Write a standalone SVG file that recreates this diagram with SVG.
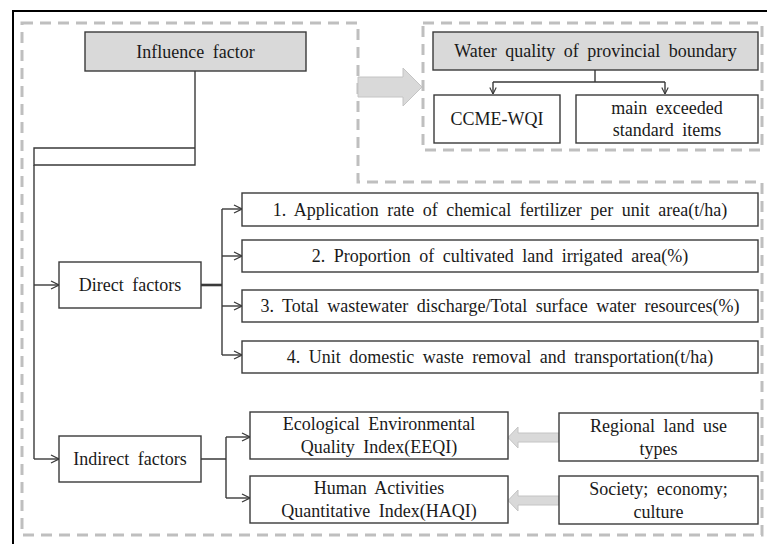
<svg xmlns="http://www.w3.org/2000/svg" width="767" height="544" viewBox="0 0 767 544">
<defs>
<style>
.box{fill:#fff;stroke:#3a3a3a;stroke-width:1.4}
.gbox{fill:#d9d9d9;stroke:#3a3a3a;stroke-width:1.4}
.dash{fill:none;stroke:#bfbfbf;stroke-width:3;stroke-dasharray:11 7}
.ln{fill:none;stroke:#3a3a3a;stroke-width:1.4}
.ga{fill:#d9d9d9;stroke:#c4c4c4;stroke-width:1}
.t{font-size:18px;fill:#1a1a1a;text-anchor:middle;dominant-baseline:central;word-spacing:4px}
</style>
<marker id="ah" viewBox="0 0 10 10" refX="10" refY="5" markerWidth="10" markerHeight="10" markerUnits="userSpaceOnUse" orient="auto">
<path d="M2,1 L10,5 L2,9" fill="none" stroke="#3a3a3a" stroke-width="1.3"/>
</marker>
<marker id="ahs" viewBox="0 0 10 10" refX="10" refY="5" markerWidth="8" markerHeight="8" markerUnits="userSpaceOnUse" orient="auto">
<path d="M2,1 L10,5 L2,9" fill="none" stroke="#3a3a3a" stroke-width="1.4"/>
</marker>
</defs>
<rect x="0" y="0" width="767" height="544" fill="#fff"/>
<path d="M13,560 V11 H780" fill="none" stroke="#000" stroke-width="2"/>
<g id="frames">
<path class="dash" d="M22,23 H358 V182 H762 V535 H22 Z"/>
<rect class="dash" x="423" y="23" width="339" height="127"/>
</g>
<g id="connectors">
<polygon class="ga" points="358,77 403,77 403,68 422,87 403,106 403,97 358,97"/>
<polygon class="ga" points="559,433 518,433 518,427 508,437.5 518,448 518,442 559,442"/>
<polygon class="ga" points="559,496 518,496 518,490 508,500.5 518,511 518,505 559,505"/>
<path class="ln" d="M195,71 V165 H34 V148 H195"/>
<path class="ln" d="M34,165 V459"/>
<path class="ln" d="M34,285 H59" marker-end="url(#ah)"/>
<path class="ln" d="M34,459 H59" marker-end="url(#ah)"/>
<path class="ln" d="M201,285 H222" style="stroke-width:2.6"/>
<path class="ln" d="M222,209 V355"/>
<path class="ln" d="M222,209 H242" marker-end="url(#ah)"/>
<path class="ln" d="M222,256 H242" marker-end="url(#ah)"/>
<path class="ln" d="M222,306 H242" marker-end="url(#ah)"/>
<path class="ln" d="M222,355 H242" marker-end="url(#ah)"/>
<path class="ln" d="M201,459 H226 M226,437 V498"/>
<path class="ln" d="M226,437 H250" marker-end="url(#ah)"/>
<path class="ln" d="M226,498 H250" marker-end="url(#ah)"/>
<path class="ln" d="M595,70 V82 M493,82 H665"/>
<path class="ln" d="M493,82 V94" marker-end="url(#ahs)"/>
<path class="ln" d="M665,82 V94" marker-end="url(#ahs)"/>
</g>
<g font-family="'Liberation Serif', 'Times New Roman', 'DejaVu Serif', serif">
<g id="influence"><rect class="gbox" x="85" y="32" width="221" height="39"/><text class="t" x="195.5" y="52">Influence factor</text></g>
<g id="waterquality"><rect class="gbox" x="433" y="32" width="325" height="38"/><text class="t" x="595.5" y="51">Water quality of provincial  boundary</text></g>
<g id="ccme"><rect class="box" x="434" y="95" width="126" height="48"/><text class="t" x="497" y="119">CCME-WQI</text></g>
<g id="exceeded"><rect class="box" x="576" y="95" width="182" height="48"/><text class="t" x="667" y="108">main  exceeded</text><text class="t" x="667" y="130">standard items</text></g>
<g id="direct"><rect class="box" x="59" y="262" width="142" height="46"/><text class="t" x="130" y="285">Direct factors</text></g>
<g id="f1"><rect class="box" x="242" y="193" width="516" height="33"/><text class="t" x="500" y="209.5">1. Application  rate of chemical  fertilizer  per unit  area(t/ha)</text></g>
<g id="f2"><rect class="box" x="242" y="240" width="516" height="32"/><text class="t" x="500" y="256">2. Proportion  of cultivated  land  irrigated  area(%)</text></g>
<g id="f3"><rect class="box" x="242" y="290" width="516" height="32"/><text class="t" x="500" y="306">3. Total wastewater  discharge/Total  surface water resources(%)</text></g>
<g id="f4"><rect class="box" x="242" y="341" width="516" height="32"/><text class="t" x="500" y="357">4. Unit  domestic  waste  removal  and  transportation(t/ha)</text></g>
<g id="indirect"><rect class="box" x="59" y="436" width="142" height="46"/><text class="t" x="130" y="459">Indirect factors</text></g>
<g id="eeqi"><rect class="box" x="250" y="412" width="258" height="47"/><text class="t" x="379" y="424">Ecological  Environmental</text><text class="t" x="379" y="447">Quality  Index(EEQI)</text></g>
<g id="haqi"><rect class="box" x="250" y="476" width="258" height="47"/><text class="t" x="379" y="488">Human Activities</text><text class="t" x="379" y="511">Quantitative  Index(HAQI)</text></g>
<g id="landuse"><rect class="box" x="559" y="413" width="199" height="48"/><text class="t" x="658.5" y="426">Regional  land  use</text><text class="t" x="658.5" y="449">types</text></g>
<g id="society"><rect class="box" x="559" y="476" width="199" height="48"/><text class="t" x="658.5" y="489">Society; economy;</text><text class="t" x="658.5" y="512">culture</text></g>
</g>
</svg>
